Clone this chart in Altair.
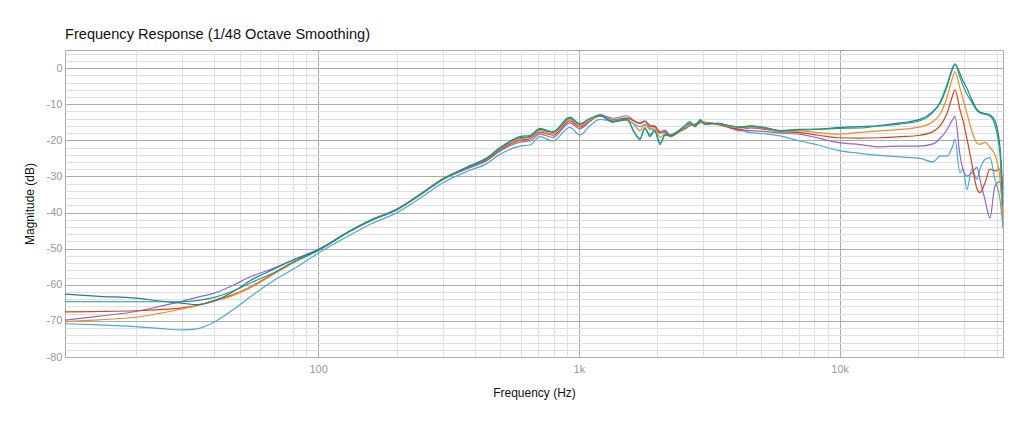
import altair as alt
import pandas as pd

freq = [10.7, 14.5, 20, 24.7, 30, 34.3, 40, 47, 55, 67, 81, 100,
        132, 160, 200, 250, 300, 382, 440,
        498, 594, 650, 709, 795, 923, 1008, 1102, 1204, 1352, 1529, 1620, 1714, 1790, 1873, 1950,
        2048, 2140, 2236, 2443, 2560, 2670, 2790, 2920, 3047, 3400, 3800, 4200, 4536, 5200, 5912,
        7035, 8300, 9838,
        11960, 14280, 17030, 20320, 22800, 24260, 25820, 27000, 27680, 28920, 29700, 30750, 32140,
        33630, 34500, 36070, 37700, 39400, 41200, 42300]

dark_teal = [-62.6, -63.2, -63.7, -64.5, -65.1, -65.5, -64.5, -62.0, -58.8, -55.8, -53.0, -50.4,
             -45.2, -42.1, -39.2, -34.7, -30.8, -27.2, -25.2,
             -22.2, -19.3, -18.9, -17.0, -17.8, -13.8, -15.6, -14.0, -13.2, -15.0, -14.2, -17.3, -19.6, -16.8, -18.5, -17.4,
             -20.8, -18.6, -18.7, -17.2, -16.0, -15.2, -16.0, -14.5, -15.5, -15.3, -16.0, -16.4, -16.1, -16.6, -17.3,
             -17.0, -16.9, -16.5,
             -16.2, -15.9, -15.2, -14.2, -12.0, -9.8, -5.0, -0.6, 1.0, -1.5, -3.5, -5.6, -8.8,
             -11.5, -12.2, -12.6, -13.0, -14.6, -22.0, -35.0]

green = [-64.7, -64.7, -64.7, -64.7, -64.7, -64.4, -63.5, -61.8, -59.5, -56.8, -53.6, -50.6,
         -45.3, -42.2, -39.3, -34.8, -30.9, -27.0, -25.0,
         -22.0, -19.0, -18.6, -16.7, -17.6, -13.6, -15.4, -14.0, -13.0, -14.8, -14.0, -17.5, -19.8, -16.5, -19.0, -17.2,
         -21.2, -18.4, -18.6, -17.0, -15.8, -14.8, -16.3, -14.3, -15.6, -15.3, -16.0, -16.3, -16.0, -16.5, -17.4,
         -17.1, -17.0, -16.7,
         -16.6, -16.0, -15.5, -14.6, -12.2, -9.5, -4.5, -0.2, 1.2, -2.5, -4.8, -7.2, -9.5,
         -11.8, -12.4, -12.8, -13.3, -15.8, -24.0, -38.0]

orange = [-70.2, -69.7, -69.0, -67.9, -66.7, -65.8, -64.5, -63.0, -60.8, -57.2, -53.8, -50.5,
          -45.1, -42.0, -39.1, -34.6, -30.6, -27.2, -25.3,
          -22.4, -19.6, -19.2, -17.3, -18.2, -14.2, -16.0, -14.5, -13.3, -14.4, -14.5, -15.5, -17.4, -15.5, -17.0, -16.5,
          -19.2, -18.2, -18.8, -17.6, -16.4, -15.8, -15.5, -14.9, -15.2, -15.4, -16.2, -16.5, -16.4, -16.8, -17.8,
          -17.4, -17.9, -18.3,
          -17.8, -17.4, -17.0, -16.3, -14.8, -12.8, -8.0, -3.0, -1.0, -5.5, -8.6, -12.5, -17.5,
          -20.8, -21.1, -20.6, -22.0, -24.0, -30.8, -42.0]

red = [-67.5, -67.4, -67.2, -66.9, -66.4, -65.7, -64.3, -62.8, -60.6, -57.0, -53.6, -50.4,
       -45.1, -42.0, -39.1, -34.6, -30.7, -27.3, -25.5,
       -22.7, -20.0, -19.6, -17.8, -18.6, -14.6, -16.3, -14.6, -13.2, -14.3, -13.8, -14.6, -15.4, -14.8, -16.3, -16.0,
       -17.8, -17.6, -19.0, -17.5, -16.7, -15.6, -15.8, -15.2, -15.0, -15.6, -16.5, -17.0, -16.6, -17.0, -17.6,
       -17.9, -18.6, -19.3,
       -19.4, -19.3, -19.0, -18.6, -17.6, -16.0, -12.5, -8.0, -6.0, -11.5, -14.5, -19.5, -26.5,
       -33.5, -34.5, -31.8, -28.0, -28.5, -28.0, -40.0]

purple = [-69.8, -68.7, -67.4, -66.0, -64.6, -63.5, -62.3, -60.2, -57.8, -55.5, -53.0, -50.2,
          -45.2, -42.1, -39.2, -34.8, -30.9, -27.6, -25.8,
          -23.0, -20.5, -20.2, -18.3, -19.2, -15.2, -16.8, -14.8, -12.9, -13.9, -13.2, -14.5, -15.2, -14.6, -15.8, -16.2,
          -17.5, -17.2, -18.5, -17.2, -16.6, -15.8, -15.5, -14.7, -15.0, -15.5, -16.6, -17.4, -17.3, -17.6, -18.0,
          -18.3, -19.4, -20.6,
          -21.2, -21.8, -21.6, -21.6, -21.0, -19.5, -17.0, -14.5, -13.4, -24.0, -28.0, -29.9, -29.0,
          -27.5, -30.8, -36.4, -41.5, -32.7, -31.5, -42.0]

light_blue = [-70.8, -71.1, -71.6, -72.1, -72.5, -72.2, -70.3, -67.0, -63.3, -59.0, -55.5, -51.3,
              -46.3, -43.1, -40.1, -35.7, -31.8, -28.3, -26.6,
              -23.9, -21.6, -21.3, -19.0, -20.2, -16.4, -18.5, -16.0, -14.2, -14.6, -14.5, -15.4, -16.2, -15.8, -16.8, -17.2,
              -18.0, -17.8, -18.8, -17.4, -16.8, -16.0, -15.6, -15.0, -15.2, -15.5, -16.4, -17.1, -17.9, -18.2, -18.8,
              -20.2, -21.3, -22.8,
              -23.6, -24.2, -24.6, -25.0, -26.0, -24.4, -24.4, -22.0, -19.7, -29.0, -28.0, -33.6, -28.0,
              -30.8, -28.0, -25.3, -24.8, -30.8, -36.4, -44.5]

series_names = ["Light blue", "Purple", "Red", "Orange", "Dark teal", "Green"]
series_values = [light_blue, purple, red, orange, dark_teal, green]
series_colors = ["#4aaad8", "#9467c4", "#d6451b", "#f08a24", "#247b92", "#17a08a"]

x_major = [100, 1000, 10000]
x_ticks = [20, 30, 40, 50, 60, 70, 80, 90, 100, 200, 300, 400, 500, 600, 700, 800, 900, 1000,
           2000, 3000, 4000, 5000, 6000, 7000, 8000, 9000, 10000, 20000, 30000, 40000]
y_ticks = list(range(-80, 6, 2))

rows = []
for name, vals in zip(series_names, series_values):
    for i, (f, v) in enumerate(zip(freq, vals)):
        rows.append({"series": name, "freq": f, "db": v, "order": i})
df = pd.DataFrame(rows)

font = "Liberation Sans"

x_axis = alt.Axis(
    title="Frequency (Hz)",
    values=x_ticks,
    labelExpr="indexof([100,1000,10000], datum.value) >= 0 ? (datum.value >= 1000 ? (datum.value/1000) + 'k' : datum.value + '') : ''",
    gridColor={"condition": {"test": "indexof([100,1000,10000], datum.value) >= 0", "value": "#acacac"}, "value": "#e0e0e0"},
    ticks=False,
    domain=False,
    labelOverlap=False,
    labelFlush=False,
    labelPadding=6,
    labelColor="#999999",
    labelFontSize=11,
    titleColor="#111111",
    titleFontSize=12,
    titleFontWeight="normal",
    titlePadding=13,
)

y_axis = alt.Axis(
    title="Magnitude (dB)",
    values=y_ticks,
    labelExpr="datum.value % 10 == 0 ? datum.value + '' : ''",
    gridColor={"condition": {"test": "datum.value % 10 == 0", "value": "#acacac"}, "value": "#e0e0e0"},
    ticks=False,
    domain=False,
    labelOverlap=False,
    labelFlush=False,
    labelPadding=3,
    labelColor="#999999",
    labelFontSize=11,
    titleColor="#111111",
    titleFontSize=12,
    titleFontWeight="normal",
    titlePadding=10,
)

chart = alt.Chart(df).mark_line(strokeWidth=1.2, clip=True, interpolate="monotone").encode(
    x=alt.X("freq:Q", scale=alt.Scale(type="log", domain=[10.7, 42300], nice=False), axis=x_axis),
    y=alt.Y("db:Q", scale=alt.Scale(domain=[-80, 5], nice=False, zero=False), axis=y_axis),
    color=alt.Color("series:N", scale=alt.Scale(domain=series_names, range=series_colors), legend=None),
    order="order:Q",
).properties(
    width=938,
    height=307,
    padding={"left": 57, "top": 42, "right": 13, "bottom": 62},
    autosize=alt.AutoSizeParams(type="none"),
    title=alt.TitleParams(
        "Frequency Response (1/48 Octave Smoothing)",
        anchor="start",
        frame="group",
        font=font,
        fontSize=14.6,
        fontWeight="normal",
        color="#111111",
        offset=6,
    ),
).configure(
    font=font,
).configure_axis(
    labelFont=font,
    titleFont=font,
).configure_view(
    stroke="#aaaaaa",
    strokeWidth=1,
)

chart.save("out.html", embed_options={"renderer": "svg", "actions": False})
